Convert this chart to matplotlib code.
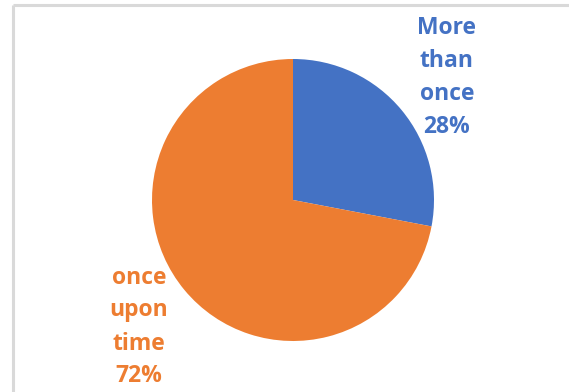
import matplotlib.pyplot as plt

labels = ["More\nthan\nonce", "once\nupon\ntime"]
shares = [28, 72]
colors = ["#4472C4", "#ED7D31"]

W, H = 569, 392
fig = plt.figure(figsize=(W / 100, H / 100), dpi=100)
ax = fig.add_axes([0, 0, 1, 1])

# pie in pixel coords (y measured from bottom)
cx, cy, r = 293, H - 200, 141
wedges, _ = ax.pie(shares, colors=colors, startangle=90, counterclock=False,
                   center=(cx, cy), radius=r, frame=True)
ax.set_xlim(0, W)
ax.set_ylim(0, H)
ax.set_aspect("equal")
ax.axis("off")

# chart border (only top and left visible in the crop)
ax.plot([13, 13], [0, H - 5], color="#D9D9D9", lw=2.2, solid_capstyle="butt")
ax.plot([13, W], [H - 5, H - 5], color="#D9D9D9", lw=2.2, solid_capstyle="butt")

# data labels
label_pos = [(447, H - 77), (139, H - 327)]
for lab, val, col, (x, y) in zip(labels, shares, colors, label_pos):
    ax.text(x, y, f"{lab}\n{val}%", color=col, ha="center", va="center",
            fontsize=16.5, fontweight="bold", family="Open Sans", linespacing=1.5)

fig.savefig("out.png", dpi=100)
